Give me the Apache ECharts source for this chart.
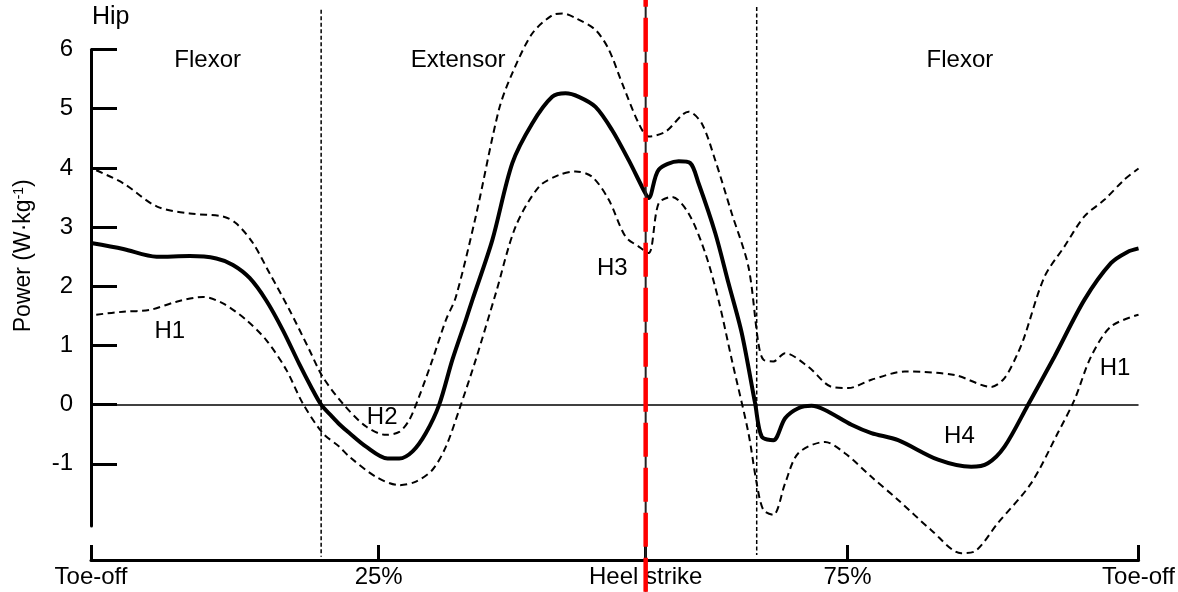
<!DOCTYPE html>
<html>
<head>
<meta charset="utf-8">
<script src="https://cdn.jsdelivr.net/npm/echarts@6/dist/echarts.min.js"></script>
<style>
html,body{margin:0;padding:0;background:#fff;}
#chart{width:1178px;height:592px;}
</style>
</head>
<body>
<div id="chart"></div>
<script>
// ---- data (x = % of gait cycle from toe-off, y = power W/kg) ----
const meanCurve = [
 [0,2.73],[3.08,2.63],[6.26,2.50],[9.43,2.51],[11.97,2.47],[13.55,2.36],[15.14,2.14],[16.73,1.76],
 [18.31,1.26],[19.9,0.68],[20.95,0.32],[21.97,0.0],[22.95,-0.19],[23.71,-0.33],[24.67,-0.48],[26.26,-0.71],
 [28.31,-0.91],[29.43,-0.91],[30.7,-0.79],[31.97,-0.48],[33.24,0.0],[34.5,0.76],[35.78,1.43],
 [36.41,1.77],[38.31,2.78],[40.22,4.08],[42.12,4.75],[44.03,5.20],[45.3,5.26],[46.57,5.20],
 [48.16,5.03],[49.74,4.64],[51.33,4.13],[52.92,3.57],[53.24,3.49],[54.19,3.97],[56.1,4.11],
 [57.21,4.08],[58.0,3.74],[59.59,2.90],[60.86,2.05],[62.12,1.21],[63.4,0.02],[64.03,-0.54],
 [65.14,-0.60],[66.26,-0.23],[67.52,-0.06],[68.79,-0.02],[70.07,-0.09],[72.6,-0.34],[74.5,-0.48],
 [77.05,-0.60],[80.86,-0.93],[84.03,-1.05],[85.62,-0.99],[87.21,-0.71],[89.43,-0.01],[91.97,0.81],
 [94.83,1.77],[97.36,2.39],[98.95,2.58],[100,2.64]
];
const upperCurve = [
 [0.5,3.96],[3.08,3.74],[6.26,3.35],[9.43,3.23],[12.6,3.18],[13.88,3.06],[15.46,2.73],[17.05,2.22],
 [18.95,1.60],[20.86,0.92],[22.12,0.47],[24.03,0.02],[26.26,-0.37],[28.16,-0.51],[29.43,-0.46],
 [30.38,-0.26],[31.33,0.14],[32.6,0.76],[33.88,1.43],[34.83,1.82],[36.73,3.18],[38.95,4.99],
 [40.22,5.60],[42.12,6.27],[44.03,6.58],[45.0,6.61],[46.26,6.53],[48.16,6.33],[49.43,6.0],
 [50.7,5.43],[52.29,4.75],[53.24,4.53],[54.83,4.61],[57.05,4.95],[58.31,4.75],[59.59,4.13],
 [61.17,3.23],[62.76,2.33],[63.71,1.04],[64.19,0.76],[65.14,0.73],[66.26,0.87],[68.48,0.64],
 [70.7,0.30],[72.29,0.28],[74.5,0.42],[77.69,0.56],[82.45,0.50],[85.93,0.30],[87.21,0.45],
 [88.48,0.87],[89.11,1.15],[91.02,2.16],[92.92,2.67],[94.83,3.18],[96.73,3.46],[98.64,3.80],[100,3.99]
];
const lowerCurve = [
 [0.5,1.52],[3.08,1.57],[5.62,1.60],[8.16,1.74],[10.7,1.82],[12.6,1.71],[14.83,1.43],[16.73,1.09],
 [18.64,0.59],[20.22,0.02],[22.12,-0.48],[23.71,-0.71],[24.67,-0.88],[27.21,-1.22],[29.43,-1.36],
 [31.02,-1.30],[32.6,-1.10],[33.88,-0.71],[35.14,-0.09],[36.73,0.76],[38.64,1.88],[40.54,3.01],
 [42.76,3.68],[44.67,3.88],[46.26,3.94],[47.84,3.85],[49.43,3.46],[51.02,2.84],[52.29,2.67],
 [53.24,2.56],[54.19,3.40],[55.46,3.51],[57.05,3.23],[58.64,2.56],[59.9,1.77],[61.17,0.76],
 [62.76,-0.48],[63.55,-1.33],[64.19,-1.78],[65.14,-1.86],[66.26,-1.33],[67.52,-0.82],[70.07,-0.63],
 [71.97,-0.82],[74.5,-1.22],[77.05,-1.61],[80.22,-2.12],[83.08,-2.51],[84.35,-2.48],[86.57,-2.0],
 [89.74,-1.33],[92.29,-0.48],[93.88,0.08],[95.46,0.81],[97.36,1.32],[100,1.52]
];
// phase boundaries (% of cycle)
const phaseBoundaries = [21.97, 63.55];
const heelStrike = 52.95;
// x-axis ticks and labels
const xTickPos = [0, 27.46, 52.95, 72.22, 100];
const xTickLabels = ['Toe-off', '25%', 'Heel strike', '75%', 'Toe-off'];
const yTickValues = [-1, 0, 1, 2, 3, 4, 5, 6];
// annotations [text, x, y]
const annotations = [
 ['Flexor', 11.14, 5.81], ['Extensor', 35.05, 5.81], ['Flexor', 82.95, 5.81],
 ['H1', 7.52, 1.245], ['H2', 27.8, -0.21], ['H3', 49.76, 2.31], ['H4', 82.9, -0.53], ['H1', 97.76, 0.62]
];

const FONT = "'Liberation Sans', Arial, Helvetica, sans-serif";
const Y_MIN = -2.05, Y_MAX = 6;

const chart = echarts.init(document.getElementById('chart'), null, {renderer: 'canvas'});

function vline(x, yTop, yBottom) { return [[x, yTop], [x, yBottom]]; }

const option = {
  animation: false,
  backgroundColor: '#fff',
  textStyle: {fontFamily: FONT, color: '#000'},
  title: {
    text: 'Hip', left: 92, top: 5, padding: 0,
    textStyle: {fontFamily: FONT, fontSize: 25, fontWeight: 'normal', color: '#000'}
  },
  grid: {left: 91, right: 37, top: 49.5, bottom: 66, containLabel: false},
  xAxis: {
    type: 'value', min: 0, max: 100, offset: 34,
    axisLine: {show: true, onZero: false, lineStyle: {color: '#000', width: 3}},
    axisTick: {show: true, inside: true, length: 15, lineStyle: {color: '#000', width: 3}, customValues: xTickPos},
    axisLabel: {
      show: true, margin: 5, fontSize: 24, fontFamily: FONT, color: '#000',
      customValues: xTickPos,
      formatter: function (v) {
        let best = 0;
        for (let i = 1; i < xTickPos.length; i++) if (Math.abs(xTickPos[i] - v) < Math.abs(xTickPos[best] - v)) best = i;
        return xTickLabels[best];
      }
    },
    splitLine: {show: false}
  },
  yAxis: {
    type: 'value', min: Y_MIN, max: Y_MAX,
    name: 'Power (W·kg{sup|-1})', nameLocation: 'middle', nameGap: 56, nameRotate: 90,
    nameTextStyle: {fontSize: 23, fontFamily: FONT, color: '#000', padding: [0, 0, 0, 64],
      rich: {sup: {fontSize: 14, fontFamily: FONT, color: '#000', verticalAlign: 'top'}}},
    axisLine: {show: true, onZero: false, lineStyle: {color: '#000', width: 3}},
    axisTick: {show: true, inside: true, length: 26, lineStyle: {color: '#000', width: 3}, customValues: yTickValues},
    axisLabel: {show: true, margin: 18, fontSize: 24, fontFamily: FONT, color: '#000', customValues: yTickValues},
    splitLine: {show: false}
  },
  series: [
    {
      name: 'phase1', type: 'line', data: vline(phaseBoundaries[0], 6.67, -2.57), clip: false, z: 1,
      symbol: 'none', lineStyle: {color: '#000', width: 1.5, type: [4, 2.5]}, silent: true
    },
    {
      name: 'phase2', type: 'line', data: vline(phaseBoundaries[1], 6.72, -2.54), clip: false, z: 1,
      symbol: 'none', lineStyle: {color: '#000', width: 1.5, type: [4, 2.5]}, silent: true
    },
    {
      name: 'upper', type: 'line', data: upperCurve, smooth: 0.3, clip: false, z: 3,
      symbol: 'none', lineStyle: {color: '#000', width: 2, type: [7, 4.5]}
    },
    {
      name: 'lower', type: 'line', data: lowerCurve, smooth: 0.3, clip: false, z: 3,
      symbol: 'none', lineStyle: {color: '#000', width: 2, type: [7, 4.5]}
    },
    {
      name: 'mean', type: 'line', data: meanCurve, smooth: 0.3, clip: false, z: 4,
      symbol: 'none', lineStyle: {color: '#000', width: 4},
      markLine: {
        silent: true, symbol: ['none', 'none'], label: {show: false},
        lineStyle: {color: '#000', width: 1.5, type: 'solid'},
        data: [{yAxis: 0}]
      }
    },
    {
      name: 'hsBase', type: 'line', data: vline(heelStrike, 6.84, -3.16), clip: false, z: 5,
      symbol: 'none', lineStyle: {color: '#222', width: 2}
    },
    {
      name: 'heelStrike', type: 'line', data: vline(heelStrike, 6.84, -3.16), clip: false, z: 6,
      symbol: 'none', lineStyle: {color: '#ff0000', width: 4.5, type: [34, 11], dashOffset: 27}
    },
    {
      name: 'labels', type: 'custom', z: 7, silent: true,
      data: annotations.map(a => [a[1], a[2], a[0]]),
      encode: {x: 0, y: 1},
      renderItem: function (params, api) {
        const p = api.coord([api.value(0), api.value(1)]);
        return {
          type: 'text', x: p[0], y: p[1],
          style: {text: annotations[params.dataIndex][0], fill: '#000', fontSize: 24, fontFamily: FONT,
                  align: 'center', verticalAlign: 'middle'}
        };
      }
    }
  ]
};
chart.setOption(option);
</script>
</body>
</html>
